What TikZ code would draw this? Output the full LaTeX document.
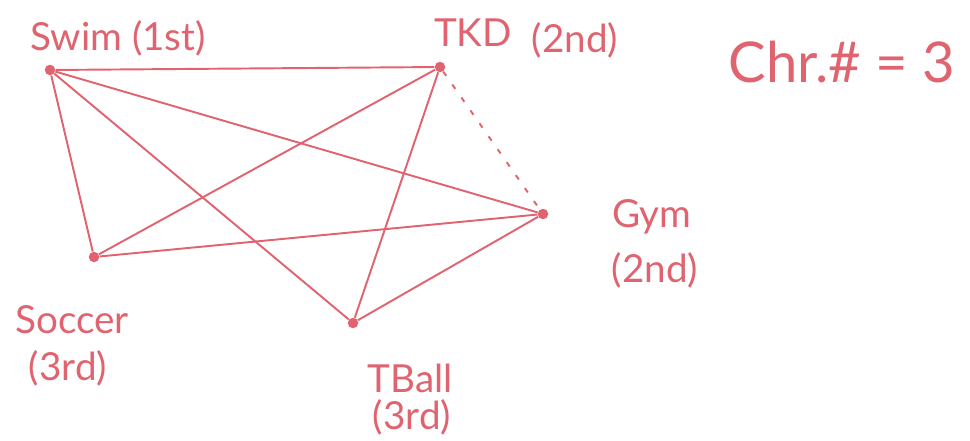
\documentclass[tikz,border=0pt]{standalone}
\usepackage{fontspec}
\setmainfont{Lato}
\usepackage{tikz}
\usetikzlibrary{positioning}
\usepackage{xcolor}
\definecolor{penred}{HTML}{E0646F}

\begin{document}
\begin{tikzpicture}[x=0.02cm, y=-0.02cm,
  vert/.style={circle, fill=penred, inner sep=0pt, minimum size=0.21cm},
  lbl/.style={text=penred, font=\fontsize{22}{24}\selectfont, inner sep=0pt},
  edge/.style={draw=penred, line width=1.1pt}
]
  \useasboundingbox (0,0) rectangle (970,440);

  % Vertices
  \node[vert] (swim) at (50,70) {};
  \node[vert] (tkd) at (440,67) {};
  \node[vert] (gym) at (543,214) {};
  \node[vert] (soccer) at (94,257) {};
  \node[vert] (tball) at (353,323) {};

  % Labels
  \node[lbl] (swimlbl) at (118,38) {Swim (1st)};
  \node[lbl] (tkdlbl) at (473,33) {TKD};
  \node[lbl] (tkdrank) at (575,40) {(2nd)};
  \node[lbl] (gymlbl) at (652,217) {Gym};
  \node[lbl] (gymrank) at (655,270) {(2nd)};
  \node[lbl] (soccerlbl) at (72,320) {Soccer};
  \node[lbl] (soccerrank) at (68,368) {(3rd)};
  \node[lbl] (tballlbl) at (410,378) {TBall};
  \node[lbl] (tballrank) at (412,417) {(3rd)};
  \node[lbl, font=\fontsize{32}{34}\selectfont] (chr) at (842,62) {Chr.\# = 3};

  % Edges
  \draw[edge] (swim) -- (tkd);
  \draw[edge] (swim) -- (gym);
  \draw[edge] (swim) -- (soccer);
  \draw[edge] (swim) -- (tball);
  \draw[edge] (tkd) -- (soccer);
  \draw[edge] (tkd) -- (tball);
  \draw[edge] (soccer) -- (gym);
  \draw[edge] (tball) -- (gym);
  \draw[edge, dash pattern=on 3pt off 6pt] (tkd) -- (gym);
\end{tikzpicture}
\end{document}
